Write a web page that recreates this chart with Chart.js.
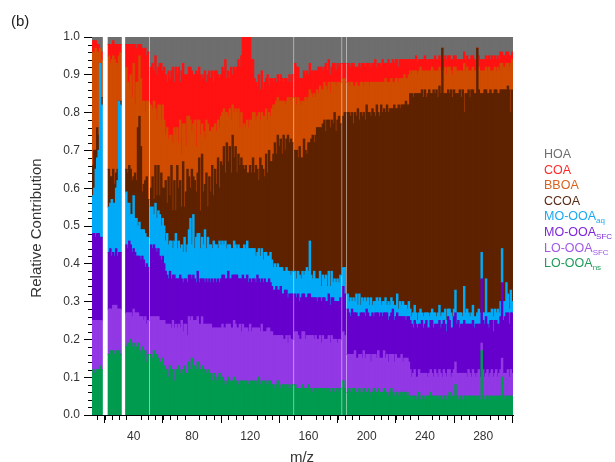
<!DOCTYPE html>
<html>
<head>
<meta charset="utf-8">
<script src="https://cdn.jsdelivr.net/npm/chart.js@4.4.1/dist/chart.umd.min.js"></script>
<style>
html,body{margin:0;padding:0;background:#fff;}
#wrap{position:relative;width:615px;height:462px;overflow:hidden;font-family:"Liberation Sans",Arial,sans-serif;}
#c{position:absolute;left:0;top:0;}
#tag{position:absolute;left:11px;top:12px;font-size:15px;color:#222;}
#ytitle{position:absolute;left:35px;top:228px;transform:translate(-50%,-50%) rotate(-90deg);font-size:15px;color:#333;white-space:nowrap;}
#xtitle{position:absolute;left:302px;top:456px;transform:translate(-50%,-50%);font-size:15px;color:#333;white-space:nowrap;}
#legend{position:absolute;left:544px;top:147px;font-size:12.5px;line-height:15.6px;white-space:nowrap;}
#legend sub{font-size:8px;vertical-align:baseline;position:relative;top:3px;line-height:0;}
</style>
</head>
<body>
<div id="wrap">
<canvas id="c" width="615" height="462"></canvas>
<div id="tag">(b)</div>
<div id="ytitle">Relative Contribution</div>
<div id="xtitle">m/z</div>
<div id="legend">
<div style="color:#6e6e6e">HOA</div>
<div style="color:#ff2a2a">COA</div>
<div style="color:#d8621f">BBOA</div>
<div style="color:#5a2a14">CCOA</div>
<div style="color:#1aa9f2">MO-OOA<sub>aq</sub></div>
<div style="color:#7d26d9">MO-OOA<sub>SFC</sub></div>
<div style="color:#a05ae6">LO-OOA<sub>SFC</sub></div>
<div style="color:#1f9c5a">LO-OOA<sub>ns</sub></div>
</div>
</div>
<script>
// m/z categories
const mz = [
 12,13,14,15,16,17,18,19,20,21,22,23,24,25,26,27,28,29,30,31,
 32,33,34,35,36,37,38,39,40,41,42,43,44,45,46,47,48,49,50,51,
 52,53,54,55,56,57,58,59,60,61,62,63,64,65,66,67,68,69,70,71,
 72,73,74,75,76,77,78,79,80,81,82,83,84,85,86,87,88,89,90,91,
 92,93,94,95,96,97,98,99,100,101,102,103,104,105,106,107,108,109,110,111,
 112,113,114,115,116,117,118,119,120,121,122,123,124,125,126,127,128,129,130,131,
 132,133,134,135,136,137,138,139,140,141,142,143,144,145,146,147,148,149,150,151,
 152,153,154,155,156,157,158,159,160,161,162,163,164,165,166,167,168,169,170,171,
 172,173,174,175,176,177,178,179,180,181,182,183,184,185,186,187,188,189,190,191,
 192,193,194,195,196,197,198,199,200,201,202,203,204,205,206,207,208,209,210,211,
 212,213,214,215,216,217,218,219,220,221,222,223,224,225,226,227,228,229,230,231,
 232,233,234,235,236,237,238,239,240,241,242,243,244,245,246,247,248,249,250,251,
 252,253,254,255,256,257,258,259,260,261,262,263,264,265,266,267,268,269,270,271,
 272,273,274,275,276,277,278,279,280,281,282,283,284,285,286,287,288,289,290,291,
 292,293,294,295,296,297,298,299,300
];
const xTickValues = [40, 80, 120, 160, 200, 240, 280];
const yTickStep = 0.1;

// LO-OOAns
const looaNs = [
 .12,.11,.12,.10,.12,.13,.12, null,null,null,null,
 .16,.17,.15,.17,.16,.17,.16,.17,.16, null,null,null,
 .18,.19,.17,.20,.18,.19,.17,.18,.19,.17,.16,.18,.15,.17,.14,.16, null,
 .16,.15,.17,.14,.16,.15,.13,.14,.15,
 .13,.11,.12,.10,.13,.11,.12,.09,.12,.10,.13,.11,.12,.10,.13,.11,.09,
 .14,.12,.15,.11,.13,.12,.14,.11,.12,.13,.10,.12,.11,.12,.10,.11,.09,.11,.10,.09,.10,.11,.09,
 .10,.08,.09,.08,.10,.09,.08,.09,.10,.08,.09,.08,.09,.08,.09,.09,.08,.09,.08,.09,.08,.09,
 .09,.08,.09,.10,.08,.09,.08,.09,.08,.09,.08,.09,.08,.08,.07,.08,.09,.08,.07,.08,.08,.07,.08,.07,.08,.07,.08,
 null,
 .08,.07,.07,.06,.07,.08,.07,.06,.07,.08,.07,.07,.06,.07,.07,.06,.07,.07,.06,.07,.07,.06,.07,.07,.06,.07,.07,.06,.07,.07,.06,.07,
 null, .09,.07, null,
 .06,.07,.06,.07,.06,.07,.06,.05,.07,.06,.06,.07,.06,.06,.07,.06,.05,.06,.07,.06,.06,.07,.06,.05,.06,.07,.06,.06,.05,.06,.07,.06,.05,.06,.06,.05,.06,.06,.05,.06,.05,.06,.05,
 .05,.04,.05,.05,.04,.05,.06,.04,.05,.05,.04,.05,.05,.04,.06,.05,.04,.05,.05,.04,.05,.05,.04,.05,.05,.04,.05,.06,.04,.05,
 .05,.08,.05,.04,.05,.05,.04,.05,.05,.04,.05,.05,.04,.05,.05,.04,.05,.05,.04,.17,.05,.04,.05,.05,.04,.05,.05,.04,.05,.05,
 .04,.05,.05,.10,.05,.04,.05,.05,.04,.05,.05
];
// LO-OOASFC
const looaSfc = [
 .13,.14,.13,.15,.13,.12,.13, null,null,null,null,
 .12,.11,.13,.12,.13,.12,.12,.11,.12, null,null,null,
 .09,.08,.10,.07,.08,.09,.10,.09,.08,.09,.10,.08,.10,.09,.10,.09, null,
 .10,.11,.09,.12,.10,.11,.12,.11,.10,
 .12,.13,.12,.14,.11,.12,.13,.14,.12,.13,.11,.12,.13,.12,.11,.13,.12,
 .12,.13,.11,.14,.12,.13,.12,.13,.12,.13,.14,.12,.13,.12,.14,.13,.14,.12,.13,.14,.13,.12,.14,
 .14,.15,.14,.16,.14,.15,.15,.14,.15,.16,.14,.15,.15,.14,.15,.14,.15,.14,.14,.15,.14,.14,
 .14,.15,.14,.13,.14,.15,.14,.13,.14,.14,.15,.13,.14,.13,.14,.13,.12,.13,.14,.13,.12,.13,.13,.12,.13,.13,.12,
 null,
 .14,.15,.14,.14,.13,.14,.15,.14,.14,.13,.14,.14,.15,.13,.14,.14,.13,.14,.13,.14,.13,.14,.13,.14,.13,.14,.13,.14,.13,.12,.14,.13,
 null, .13,.14, null,
 .10,.09,.10,.09,.10,.10,.09,.10,.09,.10,.09,.10,.09,.10,.09,.10,.09,.10,.09,.10,.09,.10,.09,.10,.09,.10,.09,.10,.09,.10,.09,.10,.09,.10,.09,.10,.09,.10,.09,.09,.10,.09,.09,
 .07,.06,.06,.07,.06,.05,.06,.07,.06,.06,.07,.06,.05,.07,.06,.06,.06,.07,.06,.06,.07,.06,.06,.07,.06,.06,.07,.06,.06,.06,
 .07,.06,.06,.07,.06,.06,.07,.06,.06,.06,.07,.06,.06,.07,.06,.06,.06,.07,.06,.02,.07,.06,.06,.07,.06,.06,.07,.06,.06,.07,
 .06,.06,.07,.05,.06,.07,.06,.07,.06,.07,.06
];
// MO-OOASFC
const mooaSfc = [
 .23,.23,.22,.23,.23,.22,.22, null,null,null,null,
 .15,.16,.14,.14,.13,.15,.14,.15,.15, null,null,null,
 .18,.17,.19,.18,.17,.16,.16,.15,.15,.16,.15,.16,.16,.13,.16,.14, null,
 .19,.18,.19,.18,.17,.18,.17,.16,.17,
 .15,.14,.13,.12,.14,.13,.12,.14,.12,.13,.12,.14,.11,.13,.12,.12,.14,
 .11,.12,.10,.12,.11,.10,.12,.11,.12,.10,.12,.11,.12,.11,.12,.11,.13,.12,.13,.12,.13,.12,.13,
 .13,.14,.13,.12,.14,.12,.13,.14,.12,.13,.14,.13,.12,.14,.13,.13,.13,.14,.13,.12,.13,.13,
 .13,.12,.14,.13,.13,.12,.13,.14,.13,.12,.13,.13,.12,.12,.12,.13,.12,.12,.13,.11,.12,.13,.12,.12,.11,.12,.12,
 null,
 .10,.09,.11,.10,.11,.10,.10,.11,.10,.11,.11,.10,.10,.11,.10,.10,.11,.10,.11,.10,.11,.10,.10,.11,.10,.10,.11,.10,.10,.11,.10,.11,
 null, .12,.11, null,
 .12,.11,.10,.12,.11,.10,.12,.11,.10,.11,.12,.10,.11,.12,.11,.10,.12,.11,.10,.11,.12,.10,.11,.12,.11,.10,.12,.11,.11,.10,.11,.12,.11,.10,.12,.11,.11,.10,.12,.11,.10,.11,.12,
 .13,.14,.12,.13,.14,.13,.12,.13,.14,.12,.13,.14,.13,.12,.13,.14,.13,.12,.13,.14,.13,.12,.14,.13,.13,.12,.14,.13,.13,.12,
 .14,.13,.13,.14,.12,.13,.13,.14,.13,.14,.12,.13,.14,.13,.12,.14,.13,.12,.14,.17,.13,.14,.15,.12,.13,.14,.13,.12,.14,.13,
 .14,.13,.14,.20,.14,.15,.16,.15,.14,.15,.16
];
// MO-OOAaq
const mooaAq = [
 .10,.12,.18,.20,.22,.46,.35, null,null,null,null,
 .12,.12,.15,.13,.14,.16,.20,.40,.39, null,null,null,
 .14,.12,.10,.08,.10,.14,.09,.10,.08,.09,.08,.07,.08,.09,.07,.08, null,
 .10,.11,.08,.12,.09,.10,.11,.09,.10,
 .10,.08,.11,.09,.08,.10,.07,.09,.12,.08,.10,.07,.09,.08,.11,.07,.10,
 .12,.15,.09,.16,.08,.12,.10,.13,.08,.11,.09,.14,.08,.12,.09,.10,.08,.11,.09,.10,.08,.11,.09,
 .09,.08,.10,.08,.07,.09,.08,.07,.09,.08,.07,.09,.08,.08,.07,.09,.08,.09,.09,.08,.09,.08,
 .08,.07,.06,.08,.07,.08,.06,.07,.08,.07,.06,.08,.07,.06,.07,.05,.07,.06,.05,.07,.06,.05,.06,.07,.06,.05,.06,
 null,
 .06,.05,.06,.07,.05,.06,.05,.07,.08,.06,.14,.06,.05,.07,.05,.06,.05,.07,.04,.06,.05,.07,.04,.06,.05,.07,.04,.06,.05,.06,.05,.06,
 null, .05,.07, null,
 .04,.03,.05,.02,.04,.03,.05,.03,.06,.02,.04,.03,.05,.02,.04,.03,.05,.02,.04,.03,.04,.03,.05,.02,.04,.03,.04,.02,.05,.03,.04,.02,.04,.03,.05,.02,.04,.03,.04,.03,.04,.02,.04,
 .03,.02,.04,.04,.03,.02,.03,.04,.02,.03,.03,.02,.04,.03,.02,.03,.04,.03,.02,.03,.04,.03,.03,.02,.04,.03,.02,.03,.04,.03,
 .02,.06,.03,.02,.04,.03,.02,.09,.03,.04,.03,.02,.03,.04,.03,.02,.03,.04,.03,.07,.02,.03,.10,.03,.04,.02,.03,.04,.03,.02,
 .04,.03,.04,.09,.05,.04,.08,.05,.04,.06,.03
];
// CCOA
const ccoa = [
 .08,.10,.05,.08,.04,0,.02, null,null,null,null,
 .10,.07,.06,.09,.05,.04,.03,0,.01, null,null,null,
 .06,.08,.10,.12,.09,.05,.12,.10,.26,.28,.22,.10,.12,.14,.16,.10, null,
 .05,.08,.04,.10,.06,.12,.05,.14,.08,
 .10,.16,.08,.18,.12,.20,.10,.16,.06,.22,.14,.18,.10,.24,.08,.16,.20,
 .14,.08,.20,.10,.18,.12,.16,.20,.10,.22,.14,.12,.20,.08,.18,.14,.22,.12,.20,.16,.24,.14,.22,
 .20,.26,.18,.28,.22,.26,.20,.30,.22,.26,.20,.24,.22,.24,.22,.20,.22,.18,.20,.22,.20,.24,
 .20,.24,.22,.18,.26,.22,.24,.20,.26,.22,.28,.24,.26,.30,.32,.30,.34,.32,.34,.30,.36,.32,.34,.36,.34,.36,.34,
 null,
 .32,.34,.30,.34,.32,.30,.36,.32,.30,.34,.26,.36,.38,.34,.38,.40,.40,.38,.42,.40,.42,.38,.44,.40,.42,.40,.42,.44,.40,.42,.44,.40,
 null, .40,.41, null,
 .48,.50,.48,.50,.46,.50,.47,.52,.46,.51,.48,.50,.47,.52,.49,.51,.48,.52,.50,.49,.51,.50,.48,.53,.50,.51,.49,.53,.50,.52,.50,.51,.53,.52,.49,.54,.51,.53,.52,.53,.54,.54,.52,
 .57,.59,.57,.56,.58,.60,.58,.57,.59,.58,.59,.57,.58,.60,.58,.57,.59,.58,.60,.57,.58,.59,.70,.58,.57,.60,.58,.57,.59,.58,
 .58,.52,.58,.58,.59,.57,.60,.46,.58,.57,.59,.58,.59,.57,.59,.59,.70,.58,.58,.42,.58,.59,.50,.58,.58,.59,.57,.59,.58,.59,
 .57,.58,.56,.42,.56,.56,.51,.55,.58,.47,.56
];
// BBOA
const bboa = [
 .30,.26,.27,.20,.22,.04,.10, null,null,null,null,
 .30,.30,.31,.30,.33,.29,.28,.12,.13, null,null,null,
 .27,.24,.20,.25,.22,.30,.18,.26,.12,.16,.18,.24,.22,.18,.20,.26, null,
 .22,.18,.26,.15,.20,.16,.24,.14,.22,
 .18,.12,.20,.10,.16,.08,.18,.14,.20,.10,.12,.16,.14,.10,.22,.12,.14,
 .16,.18,.10,.14,.16,.12,.14,.10,.20,.08,.16,.12,.14,.22,.12,.16,.10,.18,.12,.14,.10,.16,.12,
 .14,.10,.16,.08,.12,.10,.14,.08,.12,.10,.16,.12,.10,.12,.10,.12,.10,.14,.12,.12,.14,.12,
 .16,.12,.14,.18,.10,.14,.14,.16,.12,.14,.10,.12,.14,.13,.10,.14,.10,.12,.10,.14,.09,.12,.10,.10,.12,.10,.12,
 null,
 .14,.12,.16,.12,.14,.15,.10,.14,.14,.12,.14,.12,.10,.13,.10,.10,.09,.11,.10,.09,.10,.12,.08,.10,.09,.10,.11,.08,.12,.10,.09,.11,
 null, .10,.09, null,
 .08,.07,.09,.08,.10,.07,.09,.06,.09,.08,.09,.07,.10,.06,.08,.07,.09,.07,.08,.09,.06,.08,.09,.06,.08,.07,.09,.06,.08,.07,.08,.07,.06,.08,.08,.06,.08,.07,.07,.08,.06,.07,.08,
 .06,.05,.07,.06,.06,.05,.06,.07,.05,.07,.05,.07,.06,.05,.06,.07,.05,.06,.05,.07,.05,.06,0,.06,.07,.05,.06,.07,.05,.06,
 .06,.07,.06,.06,.05,.07,.05,.13,.06,.07,.05,.07,.05,.06,.06,.06,0,.06,.06,.06,.06,.05,.06,.06,.07,.05,.06,.06,.06,.05,
 .07,.06,.07,.07,.06,.06,.07,.06,.06,.13,.08
];
// COA
const coa = [
 .03,.03,.02,.02,.02,0,.02, null,null,null,null,
 .03,.05,.04,.04,.04,.05,.05,.03,.02, null,null,null,
 .06,.10,.12,.08,.14,.05,.16,.09,.10,.03,.09,.14,.14,.17,.12,.13, null,
 .10,.12,.08,.14,.12,.10,.11,.15,.09,
 .14,.16,.12,.18,.15,.17,.20,.12,.18,.14,.20,.10,.22,.16,.13,.19,.11,
 .13,.14,.16,.13,.12,.20,.12,.14,.16,.12,.15,.18,.10,.13,.16,.14,.15,.12,.14,.16,.12,.13,.11,
 .12,.10,.14,.09,.12,.08,.14,.08,.12,.10,.12,.13,.16,.15,.24,.23,.24,.22,.24,.22,.16,.14,
 .09,.10,.08,.10,.08,.11,.07,.09,.08,.12,.07,.10,.08,.06,.07,.05,.06,.05,.07,.06,.05,.07,.06,.04,.06,.05,.06,
 null,
 .09,.10,.08,.06,.07,.06,.08,.06,.08,.06,.07,.06,.07,.06,.07,.05,.07,.05,.06,.05,.04,.06,.05,.06,.05,.04,.05,.05,.04,.05,.04,.05,
 null, .04,.04, null,
 .05,.06,.04,.05,.06,.05,.04,.05,.06,.04,.05,.06,.04,.05,.05,.06,.04,.05,.05,.06,.04,.05,.05,.04,.06,.05,.04,.05,.06,.05,.04,.06,.05,.05,.05,.04,.05,.05,.05,.04,.05,.05,.04,
 .03,.04,.03,.03,.04,.03,.03,.02,.03,.03,.04,.03,.03,.03,.03,.02,.03,.04,.03,.03,.03,.03,0,.03,.03,.04,.03,.03,.03,.04,
 .03,.03,.03,.03,.03,.03,.03,.03,.03,.03,.03,.03,.04,.03,.03,.03,0,.03,.03,.03,.03,.03,.03,.03,.03,.03,.04,.03,.03,.03,
 .03,.03,.03,.03,.03,.03,.03,.03,.03,.02,.02
];
// HOA
const hoa = [
 .01,.01,.01,.02,.02,.03,.04, null,null,null,null,
 .02,.02,.02,.01,.02,.02,.02,.02,.02, null,null,null,
 .02,.02,.02,.02,.02,.02,.02,.03,.02,.02,.02,.03,.03,.03,.05,.04, null,
 .08,.07,.09,.05,.10,.08,.07,.07,.09,
 .08,.10,.12,.09,.11,.09,.08,.12,.08,.10,.08,.12,.09,.07,.10,.10,.10,
 .08,.08,.09,.10,.10,.09,.10,.08,.10,.11,.10,.09,.12,.10,.09,.11,.09,.12,.09,.09,.10,.11,.10,
 .08,.09,.06,.11,.09,.11,.08,.10,.08,.09,.08,.06,.08,.05,.01,.01,.01,.01,.01,.01,.06,.06,
 .11,.12,.13,.10,.14,.09,.14,.12,.11,.10,.13,.11,.11,.12,.11,.12,.10,.12,.10,.11,.12,.11,.11,.12,.10,.12,.10,
 null,
 .07,.08,.08,.11,.11,.11,.09,.10,.09,.10,.07,.09,.09,.09,.09,.09,.08,.08,.08,.09,.08,.07,.09,.06,.10,.08,.07,.07,.09,.07,.08,.07,
 null, .07,.07, null,
 .07,.07,.08,.07,.07,.08,.08,.08,.07,.08,.07,.07,.08,.07,.07,.07,.08,.07,.07,.06,.08,.07,.07,.08,.06,.07,.07,.07,.06,.07,.07,.06,.07,.06,.06,.08,.06,.06,.06,.06,.06,.06,.06,
 .06,.06,.06,.06,.05,.07,.06,.06,.06,.06,.05,.06,.06,.06,.06,.06,.06,.05,.06,.06,.05,.06,.03,.06,.05,.06,.05,.05,.06,.06,
 .05,.05,.06,.06,.06,.06,.06,.04,.06,.05,.06,.06,.05,.05,.06,.06,.03,.05,.06,.06,.06,.06,.05,.06,.05,.06,.05,.06,.05,.06,
 .05,.06,.04,.04,.05,.05,.04,.04,.05,.05,.04
];

const seriesList = [
  {label:'LO-OOAns',  data:looaNs,  color:'#009b4e'},
  {label:'LO-OOASFC', data:looaSfc, color:'#9238e4'},
  {label:'MO-OOASFC', data:mooaSfc, color:'#6600cc'},
  {label:'MO-OOAaq',  data:mooaAq,  color:'#00aaf6'},
  {label:'CCOA',      data:ccoa,    color:'#5e2200'},
  {label:'BBOA',      data:bboa,    color:'#d04c00'},
  {label:'COA',       data:coa,     color:'#ff1212'},
  {label:'HOA',       data:hoa,     color:'#6e6e6e'}
];

const minorTicks = {
  id:'minorTicks',
  afterDraw(chart){
    const {ctx, chartArea:a, scales:{x, y}} = chart;
    ctx.save();
    ctx.strokeStyle = '#000';
    ctx.lineWidth = 1;
    ctx.beginPath();
    for (let v = 15; v <= 300; v += 5) {
      if (xTickValues.includes(v)) continue;
      const px = Math.round(x.getPixelForValue(v)) + 0.5;
      ctx.moveTo(px, a.bottom); ctx.lineTo(px, a.bottom + 5);
    }
    for (let k = 1; k < 50; k++) {
      if (k % 5 === 0) continue;
      const py = Math.round(y.getPixelForValue(k / 50)) + 0.5;
      ctx.moveTo(a.left, py); ctx.lineTo(a.left - 4, py);
    }
    ctx.stroke();
    ctx.restore();
  }
};

const tickFont = {family:'"Liberation Sans", Arial, sans-serif', size:12};

new Chart(document.getElementById('c'), {
  type:'bar',
  data:{
    labels: mz,
    datasets: seriesList.map(s => ({
      label: s.label,
      data: s.data,
      backgroundColor: s.color,
      borderWidth: 0,
      barPercentage: 1,
      categoryPercentage: 1,
      inflateAmount: 0.5
    }))
  },
  options:{
    responsive:false,
    devicePixelRatio:1,
    animation:false,
    layout:{padding:{left:0, top:37, right:102, bottom:0}},
    plugins:{legend:{display:false}, tooltip:{enabled:false}},
    scales:{
      x:{
        type:'linear',
        stacked:true,
        min:11.4, max:300.5,
        offset:false,
        afterBuildTicks: s => { s.ticks = xTickValues.map(v => ({value:v})); },
        afterFit: s => { s.height = 47; s.paddingLeft = 0; s.paddingRight = 0; },
        ticks:{font:tickFont, color:'#333', padding:6, maxRotation:0, autoSkip:false, callback: v => String(v)},
        grid:{drawOnChartArea:false, drawTicks:true, tickLength:8, tickColor:'#000'},
        border:{display:true, color:'#000', width:1}
      },
      y:{
        stacked:true,
        min:0, max:1,
        afterFit: s => { s.width = 92; s.paddingTop = 0; s.paddingBottom = 0; },
        ticks:{stepSize:yTickStep, font:tickFont, color:'#333', padding:4, callback: v => Number(v).toFixed(1)},
        grid:{drawOnChartArea:false, drawTicks:true, tickLength:8, tickColor:'#000'},
        border:{display:true, color:'#000', width:1}
      }
    }
  },
  plugins:[minorTicks]
});
</script>
</body>
</html>
